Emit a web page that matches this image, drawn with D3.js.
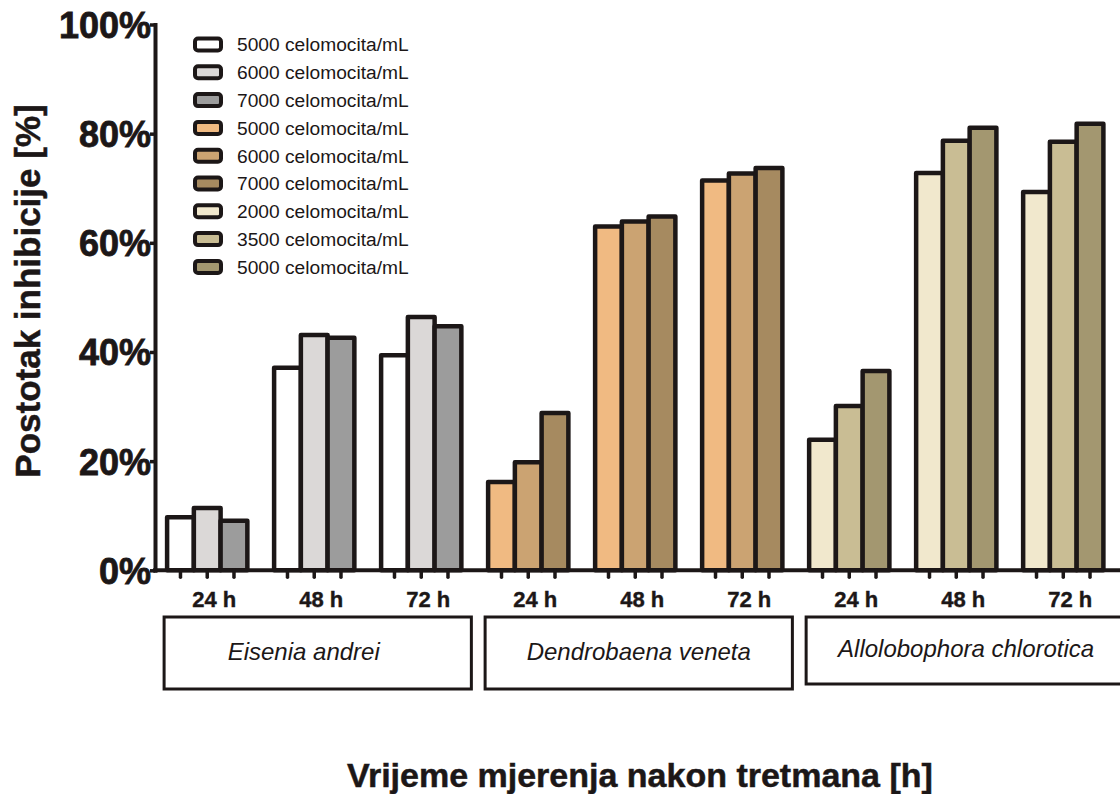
<!DOCTYPE html>
<html><head><meta charset="utf-8">
<script src="https://cdn.jsdelivr.net/npm/d3@7"></script>
<style>html,body{margin:0;padding:0;background:#fff;} svg{display:block;}</style>
</head><body>
<svg id="chart" width="1120" height="794"></svg>
<script>
// ---------- data ----------
const species = ["Eisenia andrei", "Dendrobaena veneta", "Allolobophora chlorotica"];
const times = ["24 h", "48 h", "72 h"];
const eiseniaConcentrations = ["5000 celomocita/mL", "6000 celomocita/mL", "7000 celomocita/mL"];
const dendrobaenaConcentrations = ["5000 celomocita/mL", "6000 celomocita/mL", "7000 celomocita/mL"];
const allolobophoraConcentrations = ["2000 celomocita/mL", "3500 celomocita/mL", "5000 celomocita/mL"];
// values [time][concentration] in %
const eiseniaValues = [[9.7, 11.4, 9.1], [37.1, 43.1, 42.6], [39.4, 46.4, 44.7]];
const dendrobaenaValues = [[16.2, 19.8, 28.8], [63.0, 63.9, 64.8], [71.4, 72.7, 73.7]];
const allolobophoraValues = [[23.9, 30.1, 36.5], [72.8, 78.7, 81.1], [69.3, 78.5, 81.8]];
const yTicks = [0, 20, 40, 60, 80, 100];

// ---------- palette ----------
const eiseniaColors = ["#ffffff", "#dbd8d7", "#9c9c9c"];
const dendrobaenaColors = ["#f0ba82", "#cba372", "#a68a60"];
const allolobophoraColors = ["#f1e8cd", "#c9bd94", "#a39770"];
const ink = "#1c1717";
const font = "'Liberation Sans', Arial, sans-serif";

const allValues = [eiseniaValues, dendrobaenaValues, allolobophoraValues];
const allColors = [eiseniaColors, dendrobaenaColors, allolobophoraColors];
const allConc = [eiseniaConcentrations, dendrobaenaConcentrations, allolobophoraConcentrations];

const bars = [];
species.forEach((sp, s) => times.forEach((t, ti) => [0, 1, 2].forEach(c => {
  bars.push({ s, ti, c, group: s * 3 + ti, value: allValues[s][ti][c], color: allColors[s][c] });
})));
const groups = d3.range(9);
const legendItems = [];
allConc.forEach((arr, s) => arr.forEach((label, c) => legendItems.push({ label, color: allColors[s][c] })));

// ---------- scales ----------
const svg = d3.select("#chart");
const W = 1120;
const y = d3.scaleLinear().domain([0, 100]).range([570.3, 24.5]);
const gx = d3.scaleBand().domain(groups).range([167.1, 1103.4]).paddingInner(0.25).paddingOuter(0);
const bx = d3.scaleBand().domain([0, 1, 2]).range([0, gx.bandwidth()]);
const cx = d => gx(d.group) + bx(d.c) + bx.bandwidth() / 2;

// ---------- bars ----------
svg.append("g").selectAll("rect").data(bars).join("rect")
  .attr("x", d => gx(d.group) + bx(d.c))
  .attr("y", d => y(d.value))
  .attr("width", bx.bandwidth())
  .attr("height", d => y(0) - y(d.value))
  .attr("fill", d => d.color)
  .attr("stroke", ink)
  .attr("stroke-width", 4.5)
  .attr("stroke-linejoin", "round");

// ---------- x axis ----------
svg.append("line").attr("x1", 153).attr("x2", W).attr("y1", y(0)).attr("y2", y(0))
  .attr("stroke", ink).attr("stroke-width", 4);
svg.append("g").selectAll("line").data(bars).join("line")
  .attr("x1", cx).attr("x2", cx).attr("y1", y(0)).attr("y2", y(0) + 7)
  .attr("stroke", ink).attr("stroke-width", 3.5).attr("stroke-linecap", "round");

svg.append("g").selectAll("text").data(groups).join("text")
  .attr("x", g => gx(g) + gx.bandwidth() / 2 + 7)
  .attr("y", 607)
  .attr("text-anchor", "middle")
  .attr("font-family", font).attr("font-weight", "bold").attr("font-size", 22)
  .attr("fill", ink).attr("stroke", ink).attr("stroke-width", 0.4)
  .text(g => times[g % 3]);

// species boxes
species.forEach((sp, s) => {
  const left = gx(s * 3) - 3;
  const right = s === 2 ? W + 10 : gx(s * 3 + 2) + gx.bandwidth() + 10;
  svg.append("rect").attr("x", left).attr("y", 617).attr("width", right - left).attr("height", s === 2 ? 67 : 72)
    .attr("fill", "none").attr("stroke", ink).attr("stroke-width", 3);
  svg.append("text").attr("x", s === 2 ? left + 160 : (left + right) / 2 - (s === 0 ? 14 : 0))
    .attr("y", s === 2 ? 657 : 660)
    .attr("text-anchor", "middle")
    .attr("font-family", font).attr("font-style", "italic").attr("font-size", 24)
    .attr("fill", ink).text(sp);
});

// ---------- y axis ----------
const yAxis = d3.axisLeft(y).tickValues(yTicks).tickSize(5).tickSizeOuter(0).tickPadding(-1)
  .tickFormat(d => d + "%");
const ya = svg.append("g").attr("transform", "translate(155,0)").call(yAxis);
ya.select(".domain").attr("stroke", ink).attr("stroke-width", 4).attr("stroke-linecap", "square");
ya.selectAll(".tick line").attr("stroke", ink).attr("stroke-width", 3.5);
ya.selectAll(".tick text").attr("font-family", font).attr("font-weight", "bold")
  .attr("font-size", 36).attr("fill", ink).attr("stroke", ink).attr("stroke-width", 0.8)
  .attr("dy", "0.36em");

// ---------- legend ----------
const lg = svg.append("g").selectAll("g").data(legendItems).join("g")
  .attr("transform", (d, i) => `translate(0,${44.5 + i * 27.8})`);
lg.append("rect").attr("x", 195).attr("y", -6).attr("width", 26).attr("height", 12).attr("rx", 3)
  .attr("fill", d => d.color).attr("stroke", ink).attr("stroke-width", 4);
lg.append("text").attr("x", 237).attr("y", 0).attr("dy", "0.36em")
  .attr("font-family", font).attr("font-size", 19.2).attr("fill", ink).text(d => d.label);

// ---------- titles ----------
svg.append("text").attr("transform", "translate(40,291) rotate(-90)")
  .attr("text-anchor", "middle").attr("font-family", font).attr("font-weight", "bold")
  .attr("font-size", 35).attr("fill", ink).attr("stroke", ink).attr("stroke-width", 0.5)
  .text("Postotak inhibicije [%]");
svg.append("text").attr("x", 640).attr("y", 787).attr("text-anchor", "middle")
  .attr("font-family", font).attr("font-weight", "bold").attr("font-size", 34)
  .attr("fill", ink).attr("stroke", ink).attr("stroke-width", 0.5)
  .text("Vrijeme mjerenja nakon tretmana [h]");
</script>
</body></html>
